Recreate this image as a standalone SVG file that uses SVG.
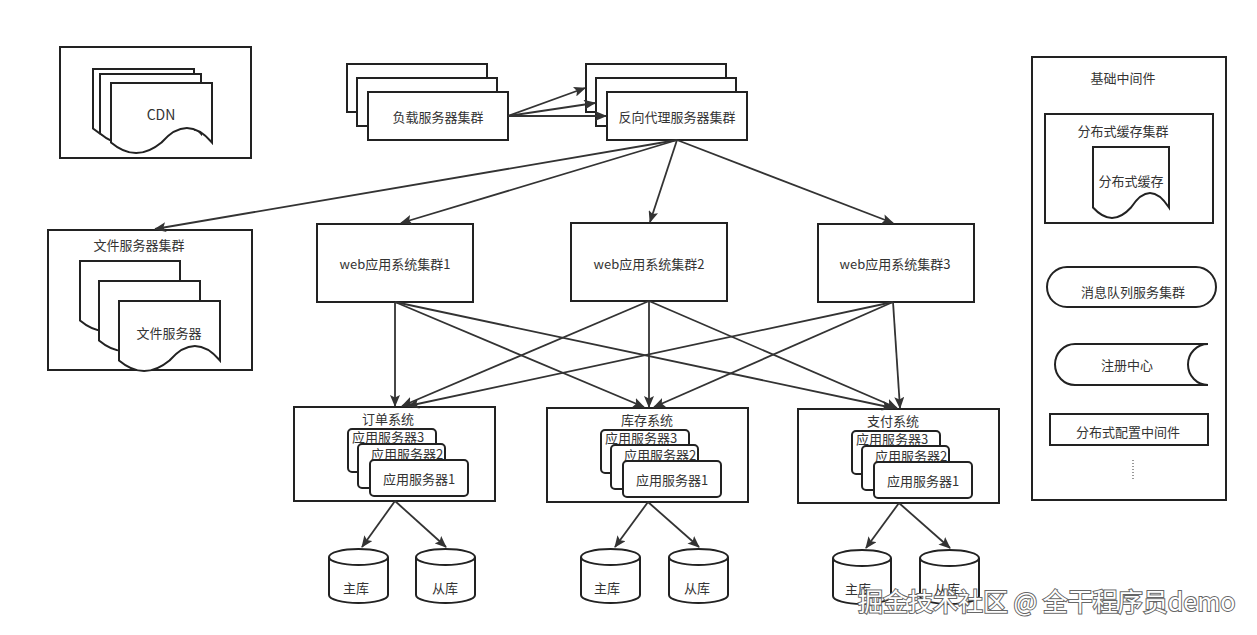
<svg xmlns="http://www.w3.org/2000/svg" width="1257" height="635" viewBox="0 0 1257 635">
<defs>
<style>
.b{fill:#fff;stroke:#222;stroke-width:2}
.t{font-family:"Noto Sans CJK SC","Liberation Sans",sans-serif;font-size:13px;fill:#333;text-anchor:middle;dominant-baseline:central}
.e{fill:none;stroke:#333;stroke-width:1.8}
.wm{font-family:"Noto Sans CJK SC","Liberation Sans",sans-serif;font-size:25px;fill:#fff;stroke:#666;stroke-width:2;paint-order:stroke}
</style>
<marker id="ar" viewBox="0 0 12 10" refX="11" refY="5" markerWidth="12" markerHeight="10" orient="auto" markerUnits="userSpaceOnUse">
<path d="M0,0 L12,5 L0,10 L2.5,5 Z" fill="#333"/>
</marker>
</defs>
<rect width="1257" height="635" fill="#fff"/>

<g id="cdn">
<rect class="b" x="60" y="47" width="191" height="111"/>
<path class="b" d="M93,69 H194 V128.5 Q169,99.6 143.5,128.5 Q118,149.6 93,128.5 Z"/>
<path class="b" d="M100,74 H201 V133.5 Q176,104.6 150.5,133.5 Q125,154.6 100,133.5 Z"/>
<path class="b" d="M111,83 H212 V142.5 Q187,113.6 161.5,142.5 Q136,163.6 111,142.5 Z"/>
<text class="t" x="161" y="114" style="font-size:14px">CDN</text>
</g>

<g id="lb">
<rect class="b" x="347" y="64" width="140" height="48"/>
<rect class="b" x="357" y="78" width="140" height="48"/>
<rect class="b" x="368" y="92" width="140" height="48"/>
<text class="t" x="438" y="116">负载服务器集群</text>
</g>

<g id="proxy">
<rect class="b" x="586" y="64" width="140" height="48"/>
<rect class="b" x="596" y="78" width="140" height="48"/>
<rect class="b" x="607" y="92" width="140" height="48"/>
<text class="t" x="677" y="116">反向代理服务器集群</text>
</g>

<g id="fileserver">
<rect class="b" x="48" y="230" width="204" height="140"/>
<text class="t" x="139" y="244">文件服务器集群</text>
<path class="b" d="M80,261 H180 V320.5 Q155,291.6 130,320.5 Q105,341.6 80,320.5 Z"/>
<path class="b" d="M99,281 H200 V340.5 Q175,311.6 149.5,340.5 Q124,361.6 99,340.5 Z"/>
<path class="b" d="M119,301 H220 V360.5 Q195,331.6 169.5,360.5 Q144,381.6 119,360.5 Z"/>
<text class="t" x="169" y="332">文件服务器</text>
</g>

<g id="web1">
<rect class="b" x="317" y="224" width="156" height="78"/>
<text class="t" x="395" y="263">web应用系统集群1</text>
</g>
<g id="web2">
<rect class="b" x="571" y="223" width="156" height="78"/>
<text class="t" x="649" y="263">web应用系统集群2</text>
</g>
<g id="web3">
<rect class="b" x="818" y="224" width="156" height="78"/>
<text class="t" x="895" y="263">web应用系统集群3</text>
</g>

<g id="order">
<rect class="b" x="294" y="407" width="201" height="94"/>
<text class="t" x="388" y="418">订单系统</text>
<rect class="b" x="348" y="429" width="88" height="43" rx="4"/>
<text class="t" x="388" y="436">应用服务器3</text>
<rect class="b" x="358" y="444" width="87" height="44" rx="4"/>
<text class="t" x="407" y="453">应用服务器2</text>
<rect class="b" x="370" y="460" width="98" height="36" rx="4"/>
<text class="t" x="419" y="478">应用服务器1</text>
</g>

<g id="stock">
<rect class="b" x="547" y="408" width="201" height="94"/>
<text class="t" x="647" y="419">库存系统</text>
<rect class="b" x="601" y="430" width="88" height="43" rx="4"/>
<text class="t" x="641" y="437">应用服务器3</text>
<rect class="b" x="611" y="445" width="87" height="44" rx="4"/>
<text class="t" x="660" y="454">应用服务器2</text>
<rect class="b" x="623" y="461" width="98" height="36" rx="4"/>
<text class="t" x="672" y="479">应用服务器1</text>
</g>

<g id="pay">
<rect class="b" x="798" y="409" width="201" height="94"/>
<text class="t" x="893" y="420">支付系统</text>
<rect class="b" x="852" y="431" width="88" height="43" rx="4"/>
<text class="t" x="892" y="438">应用服务器3</text>
<rect class="b" x="862" y="446" width="87" height="44" rx="4"/>
<text class="t" x="911" y="455">应用服务器2</text>
<rect class="b" x="874" y="462" width="98" height="36" rx="4"/>
<text class="t" x="923" y="480">应用服务器1</text>
</g>

<g id="db1m">
<path class="b" d="M329,557 A29.5,8 0 0 1 388,557 V595 A29.5,8 0 0 1 329,595 Z"/>
<path class="b" fill="none" d="M329,557 A29.5,8 0 0 0 388,557"/>
<text class="t" x="356" y="587">主库</text>
</g>
<g id="db1s">
<path class="b" d="M416,557 A29.5,8 0 0 1 475,557 V595 A29.5,8 0 0 1 416,595 Z"/>
<path class="b" fill="none" d="M416,557 A29.5,8 0 0 0 475,557"/>
<text class="t" x="445" y="587">从库</text>
</g>
<g id="db2m">
<path class="b" d="M581,557 A29.5,8 0 0 1 640,557 V595 A29.5,8 0 0 1 581,595 Z"/>
<path class="b" fill="none" d="M581,557 A29.5,8 0 0 0 640,557"/>
<text class="t" x="607" y="587">主库</text>
</g>
<g id="db2s">
<path class="b" d="M669,557 A29.5,8 0 0 1 728,557 V595 A29.5,8 0 0 1 669,595 Z"/>
<path class="b" fill="none" d="M669,557 A29.5,8 0 0 0 728,557"/>
<text class="t" x="697" y="587">从库</text>
</g>
<g id="db3m">
<path class="b" d="M833,558 A29,8 0 0 1 891,558 V596 A29,8 0 0 1 833,596 Z"/>
<path class="b" fill="none" d="M833,558 A29,8 0 0 0 891,558"/>
<text class="t" x="858" y="588">主库</text>
</g>
<g id="db3s">
<path class="b" d="M920,558 A29.5,8 0 0 1 979,558 V596 A29.5,8 0 0 1 920,596 Z"/>
<path class="b" fill="none" d="M920,558 A29.5,8 0 0 0 979,558"/>
<text class="t" x="947" y="588">从库</text>
</g>

<g id="middleware">
<rect class="b" x="1032" y="57" width="194" height="443"/>
<text class="t" x="1123" y="77">基础中间件</text>
</g>
<g id="cache">
<rect class="b" x="1045" y="114" width="168" height="109"/>
<text class="t" x="1123" y="130">分布式缓存集群</text>
<path class="b" d="M1093,147 H1169 V207.5 Q1150,178.4 1131,207.5 Q1112,228.4 1093,207.5 Z"/>
<text class="t" x="1131" y="180">分布式缓存</text>
</g>
<g id="mq">
<rect class="b" x="1047" y="267" width="169" height="40" rx="20"/>
<text class="t" x="1133" y="291">消息队列服务集群</text>
</g>
<g id="registry">
<path class="b" d="M1075,344 A20,20.5 0 0 0 1075,385 H1208 A20,20.5 0 0 1 1208,344 Z"/>
<text class="t" x="1127" y="364">注册中心</text>
</g>
<g id="config">
<rect class="b" x="1050" y="414" width="158" height="31"/>
<text class="t" x="1128" y="431">分布式配置中间件</text>
</g>
<g id="more">
<line x1="1133" y1="460" x2="1133" y2="480" stroke="#333" stroke-width="1" stroke-dasharray="1,2"/>
</g>

<g id="connectors">
<line class="e" x1="508" y1="116" x2="585" y2="88" marker-end="url(#ar)"/>
<line class="e" x1="508" y1="116" x2="595" y2="103" marker-end="url(#ar)"/>
<line class="e" x1="508" y1="116" x2="606" y2="116" marker-end="url(#ar)"/>
<line class="e" x1="677" y1="140" x2="155" y2="229" marker-end="url(#ar)"/>
<line class="e" x1="677" y1="140" x2="401" y2="223" marker-end="url(#ar)"/>
<line class="e" x1="677" y1="140" x2="650" y2="222" marker-end="url(#ar)"/>
<line class="e" x1="677" y1="140" x2="893" y2="223" marker-end="url(#ar)"/>
<line class="e" x1="395" y1="302" x2="395" y2="406" marker-end="url(#ar)"/>
<line class="e" x1="395" y1="302" x2="644" y2="407" marker-end="url(#ar)"/>
<line class="e" x1="395" y1="302" x2="893" y2="408" marker-end="url(#ar)"/>
<line class="e" x1="649" y1="301" x2="402" y2="406" marker-end="url(#ar)"/>
<line class="e" x1="649" y1="301" x2="649" y2="407" marker-end="url(#ar)"/>
<line class="e" x1="649" y1="301" x2="897" y2="408" marker-end="url(#ar)"/>
<line class="e" x1="893" y1="302" x2="408" y2="406" marker-end="url(#ar)"/>
<line class="e" x1="893" y1="302" x2="654" y2="407" marker-end="url(#ar)"/>
<line class="e" x1="893" y1="302" x2="900" y2="408" marker-end="url(#ar)"/>
<line class="e" x1="395" y1="501" x2="362" y2="547" marker-end="url(#ar)"/>
<line class="e" x1="395" y1="501" x2="446" y2="547" marker-end="url(#ar)"/>
<line class="e" x1="648" y1="502" x2="615" y2="547" marker-end="url(#ar)"/>
<line class="e" x1="648" y1="502" x2="699" y2="547" marker-end="url(#ar)"/>
<line class="e" x1="899" y1="503" x2="866" y2="548" marker-end="url(#ar)"/>
<line class="e" x1="899" y1="503" x2="950" y2="548" marker-end="url(#ar)"/>
</g>

<text class="wm" x="858" y="611">掘金技术社区 @ 全干程序员demo</text>
</svg>
